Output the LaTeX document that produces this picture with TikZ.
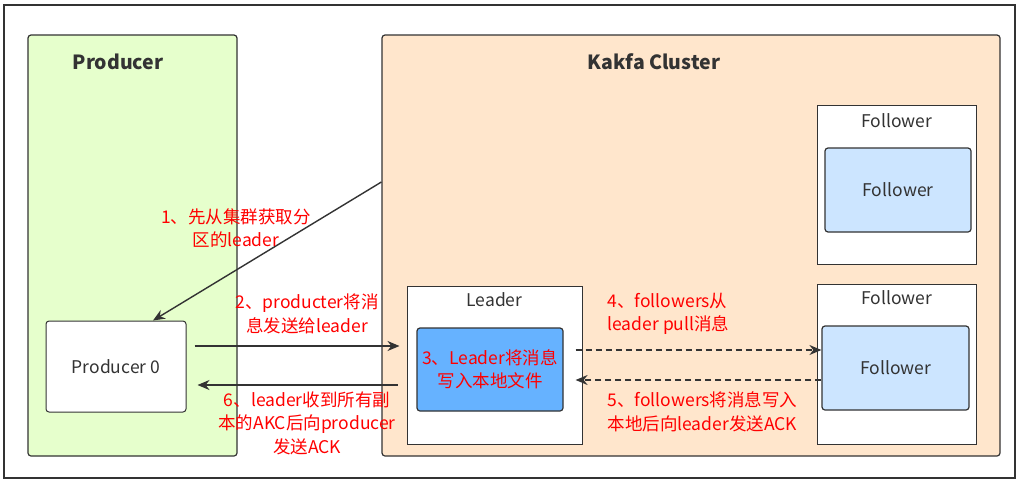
\documentclass[tikz,border=0pt]{standalone}
\usepackage{fontspec}
\setmainfont{Noto Sans CJK SC}
\usetikzlibrary{arrows.meta,positioning,calc}
\definecolor{prodgreen}{HTML}{E6FFCC}
\definecolor{clusterorange}{HTML}{FFE6CC}
\definecolor{folblue}{HTML}{CCE5FF}
\definecolor{ldrblue}{HTML}{66B2FF}
\definecolor{edgegray}{HTML}{333333}
\definecolor{notered}{HTML}{FF0000}

\begin{document}
\begin{tikzpicture}[
  x=1pt, y=-1pt,
  font=\fontsize{17.5}{23.5}\selectfont,
  group/.style={draw=edgegray, line width=1.2pt, rounded corners=3pt,
                fill=#1, inner sep=0pt},
  box/.style={draw=edgegray, line width=1pt, fill=white, inner sep=0pt},
  core/.style={draw=edgegray, line width=1.2pt, rounded corners=3pt,
               fill=#1, inner sep=0pt},
  title/.style={font=\fontsize{19.5}{22}\selectfont\bfseries, text=edgegray},
  lbl/.style={text=edgegray},
  note/.style={text=notered, align=center},
  flow/.style={draw=edgegray, line width=1.4pt, -{Stealth[length=12pt,width=10pt]}},
  pull/.style={flow, dash pattern=on 6pt off 4pt},
]
\useasboundingbox (0,0) rectangle (1019,483);

% frame and groups
\node[box, line width=1.5pt, minimum width=1011pt, minimum height=473pt] (frame) at (509.5,241.5) {};
\node[group=prodgreen, minimum width=209pt, minimum height=421pt] (prod) at (132.5,245.5) {};
\node[group=clusterorange, minimum width=618pt, minimum height=421pt] (cluster) at (691,245.5) {};
\node[title] (prodtitle) at (118,62) {Producer};
\node[title] (clustertitle) at (654,62) {Kakfa Cluster};

% producer
\node[box, rounded corners=3pt, minimum width=140pt, minimum height=91pt] (p0) at (116,366.5) {};
\node[lbl] (p0lbl) at (p0.center) {Producer 0};

% leader
\node[box, minimum width=175pt, minimum height=158pt] (ldr) at (494.5,365) {};
\node[lbl] (ldrlbl) at (ldr.north |- 0,300) {Leader};
\node[core=ldrblue, minimum width=146pt, minimum height=83pt] (ldrin) at (490,369.5) {};
\node[note] (n3) at (ldrin.center) {3、Leader将消息\\写入本地文件};

% followers
\node[box, minimum width=159pt, minimum height=159pt] (fol1) at (896.5,184.5) {};
\node[lbl] (fol1lbl) at (fol1.north |- 0,121) {Follower};
\node[core=folblue, minimum width=146pt, minimum height=84pt] (fol1in) at (898,190) {};
\node[lbl] (fol1txt) at (fol1in.center) {Follower};

\node[box, minimum width=159pt, minimum height=160pt] (fol2) at (896.5,364) {};
\node[lbl] (fol2lbl) at (fol2.north |- 0,298) {Follower};
\node[core=folblue, minimum width=147pt, minimum height=84pt] (fol2in) at (895.5,368) {};
\node[lbl] (fol2txt) at (fol2in.center) {Follower};

% connectors
\coordinate (ask) at (cluster.west |- 0,182);
\draw[flow] (ask) -- (p0.north -| 153,0);
\draw[flow, shorten <=8pt, shorten >=7pt] ([yshift=20.5pt]p0.east) -- ([yshift=20.5pt]p0.east -| ldr.west);
\draw[flow, shorten <=9pt, shorten >=11pt] ([yshift=-18.5pt]p0.east -| ldr.west) -- ([yshift=-18.5pt]p0.east);
\draw[pull] ([xshift=12pt,yshift=19.5pt]ldrin.east) -- ([yshift=18pt]fol2in.west);
\draw[pull] ([yshift=-12pt]fol2in.west) -- ([xshift=12pt,yshift=-10.5pt]ldrin.east);

% step notes
\node[note] (n1) at (236,228) {1、先从集群获取分\\区的leader};
\node[note] (n2) at (307,314) {2、producter将消\\息发送给leader};
\node[note] (n6) at (307,423) {6、leader收到所有副\\本的AKC后向producer\\发送ACK};
\node[note, align=left, anchor=west] (n4) at (604,314) {4、followers从\\leader pull消息};
\node[note, align=left, anchor=west] (n5) at (604,412) {5、followers将消息写入\\本地后向leader发送ACK};
\end{tikzpicture}
\end{document}
